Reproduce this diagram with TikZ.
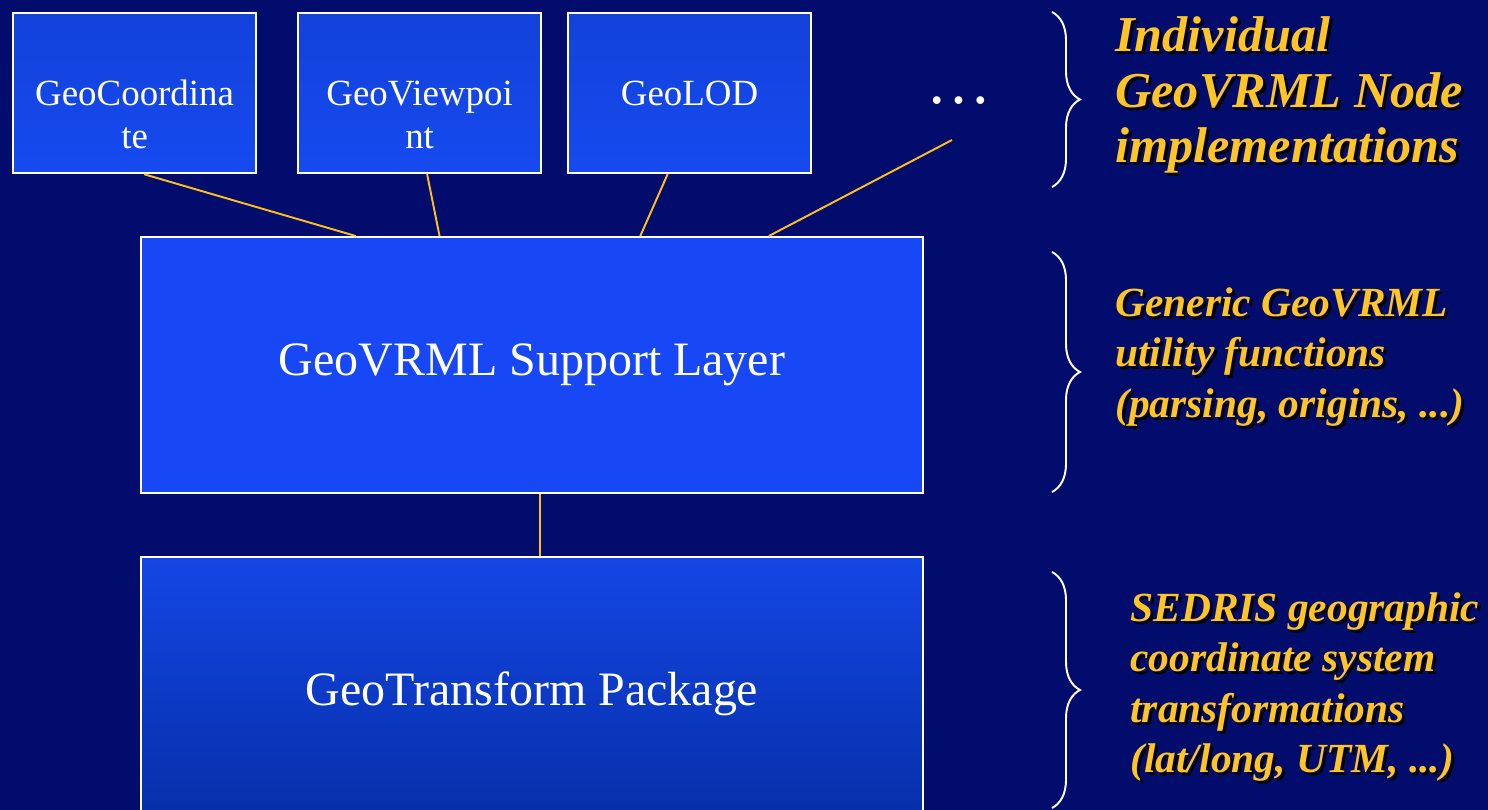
\documentclass[tikz,border=0pt]{standalone}
\usepackage{fontspec}
\setmainfont{Liberation Serif}
\usetikzlibrary{calc,decorations.pathreplacing}

\definecolor{slidebg}{RGB}{2,12,108}
\definecolor{boxtop}{RGB}{19,66,218}
\definecolor{boxbot}{RGB}{22,74,240}
\definecolor{layerfill}{RGB}{24,72,245}
\definecolor{pkgtop}{RGB}{20,70,229}
\definecolor{pkgbot}{RGB}{5,46,165}
\definecolor{wire}{RGB}{255,190,30}
\definecolor{gold}{RGB}{255,196,37}

% yellow note with a black drop shadow
\newcommand{\shadownote}[4]{%
  \node[note, font=#3, text=black] at ($(#1)+(3,3)$) {#4};
  \node[note, font=#3] (#2) at (#1) {#4};}
% wrapped name, first line kept in the middle of the box
\newcommand{\wrapname}[2]{\raisebox{0pt}[0.68em][0pt]{\begin{tabular}[t]{@{}c@{}}#1\\#2\end{tabular}}}

\begin{document}
\begin{tikzpicture}[x=0.02cm, y=-0.02cm,
  nodebox/.style = {draw=white, line width=1.3pt, top color=boxtop, bottom color=boxbot, text=white, anchor=north west, inner sep=0pt, minimum width=4.86cm, minimum height=3.2cm, font=\fontsize{21}{24.5}\selectfont},
  layer/.style = {draw=white, line width=1.3pt, text=white, anchor=north west, minimum width=15.64cm, font=\fontsize{27.3}{32}\selectfont},
  link/.style = {wire, line width=1.1pt},
  curly/.style = {white, line width=1.1pt, decorate, decoration={brace, amplitude=0.56cm}},
  note/.style = {anchor=west, align=left, inner sep=0pt, text=gold}]

    % background
    \fill[slidebg] (0,0) rectangle (1488,810);
    \useasboundingbox (0,0) rectangle (1488,810);
    \clip (0,0) rectangle (1488,810);

    % node implementations
    \node[nodebox] (coord) at (12,12) {\wrapname{GeoCoordina}{te}};
    \node[nodebox] (viewpt) at (297,12) {\wrapname{GeoViewpoi}{nt}};
    \node[nodebox] (lod) at (567,12) {\raisebox{0pt}[0.68em][0pt]{GeoLOD}};
    \node[text=white, font=\fontsize{37}{40}\selectfont] (more) at (959,101) {…};
    \coordinate (more end) at (952,140);

    % layers
    \node[layer, minimum height=5.12cm, fill=layerfill] (support) at (140,236) {GeoVRML Support Layer};
    \node[layer, minimum height=5.48cm, top color=pkgtop, bottom color=pkgbot] (transform) at (140,556) {GeoTransform Package};

    % links
    \draw[link] ([xshift=0.19cm]coord.south) -- ($(support.north west)!0.275!(support.north east)$);
    \draw[link] ([xshift=0.15cm]viewpt.south) -- ($(support.north west)!0.382!(support.north east)$);
    \draw[link] ([xshift=-0.44cm]lod.south) -- ($(support.north west)!0.638!(support.north east)$);
    \draw[link] (more end) -- ($(support.north west)!0.802!(support.north east)$);
    \draw[link] ([xshift=0.16cm]support.south) -- ([xshift=0.16cm]transform.north);

    % braces and notes
    \draw[curly] (1052,12) -- (1052,187);
    \draw[curly] (1052,252) -- (1052,492);
    \draw[curly] (1052,572) -- (1052,808);
    \shadownote{1115,95}{nodes note}{\fontsize{28.6}{31.6}\bfseries\itshape}{Individual\\GeoVRML Node\\implementations}
    \shadownote{1115,357}{support note}{\fontsize{23.6}{29}\bfseries\itshape}{Generic GeoVRML\\utility functions\\(parsing, origins, ...)}
    \shadownote{1130,687}{transform note}{\fontsize{23.6}{28.6}\bfseries\itshape}{SEDRIS geographic\\coordinate system\\transformations\\(lat/long, UTM, ...)}

\end{tikzpicture}
\end{document}
